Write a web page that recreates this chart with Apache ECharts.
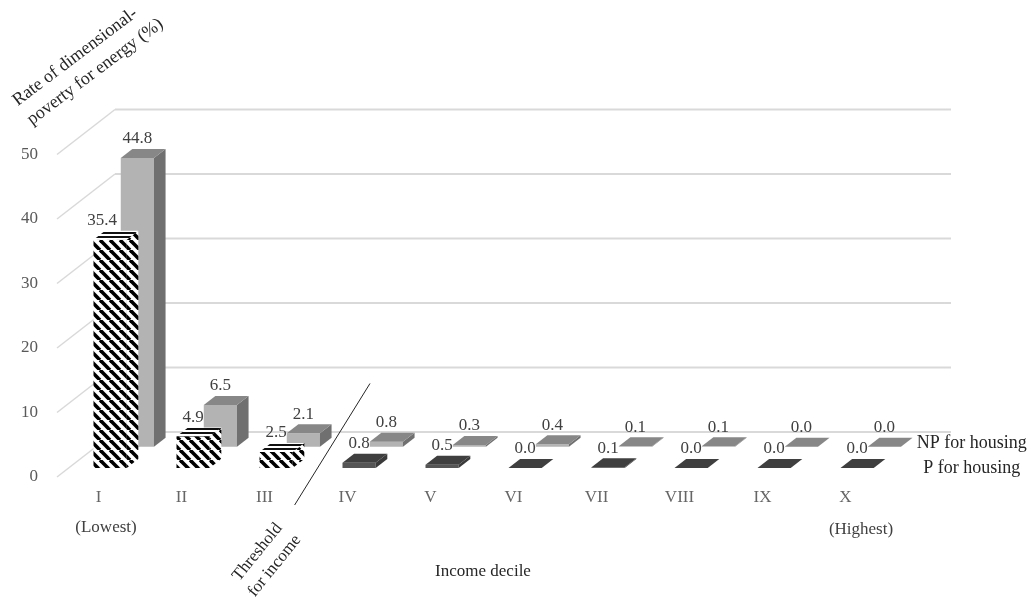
<!DOCTYPE html>
<html>
<head>
<meta charset="utf-8">
<script src="https://cdn.jsdelivr.net/npm/echarts@6/dist/echarts.min.js"></script>
<style>
  html, body { margin: 0; padding: 0; background: #ffffff; }
  #chart { width: 1035px; height: 604px; }
</style>
</head>
<body>
<div id="chart"></div>
<script>
// ---- data ----
const deciles = ['I', 'II', 'III', 'IV', 'V', 'VI', 'VII', 'VIII', 'IX', 'X'];
const poorHousing = [35.4, 4.9, 2.5, 0.8, 0.5, 0.0, 0.1, 0.0, 0.0, 0.0];     // P for housing
const nonPoorHousing = [44.8, 6.5, 2.1, 0.8, 0.3, 0.4, 0.1, 0.1, 0.0, 0.0];  // NP for housing
const valueTicks = [0, 10, 20, 30, 40, 50];
const rowNames = ['P for housing', 'NP for housing'];
const incomeThresholdAfter = 3; // deciles I-III lie below the income threshold

// ---- pseudo-3D geometry ----
const FONT = '"Liberation Serif", "Times New Roman", serif';
const DEPTH = [58, -45];      // front edge -> back wall offset in px
const ROW_DEPTH = { P: 0.2, NP: 0.67 };
const SLAB = 0.2;             // bar thickness as a fraction of depth
const BAR_FRAC = 0.4;         // bar width as a fraction of the category band
const GRID_COLOR = '#d9d9d9';

// diagonal black/white hatch used for the below-threshold P bars
function hatchCanvas() {
  const c = document.createElement('canvas');
  c.width = c.height = 10;
  const g = c.getContext('2d');
  g.fillStyle = '#ffffff'; g.fillRect(0, 0, 10, 10);
  g.strokeStyle = '#000000'; g.lineWidth = 3.6;
  for (const k of [-10, 0, 10]) {
    g.beginPath(); g.moveTo(k, 0); g.lineTo(k + 10, 10); g.stroke();
  }
  return c;
}
function topHatchCanvas() {
  const c = document.createElement('canvas');
  c.width = 4; c.height = 4;
  const g = c.getContext('2d');
  g.fillStyle = '#ffffff'; g.fillRect(0, 0, 4, 4);
  g.fillStyle = '#111111'; g.fillRect(0, 0, 4, 2);
  return c;
}
const HATCH = { image: hatchCanvas(), repeat: 'repeat' };
const TOP_HATCH = { image: topHatchCanvas(), repeat: 'repeat' };

const NP_STYLE = { front: '#b3b3b3', side: '#707070', top: '#878787' };
const P_STYLE = { front: '#555555', side: '#3a3a3a', top: '#3f3f3f' };

function poly(points, fill) {
  return { type: 'polygon', shape: { points: points }, style: { fill: fill, stroke: null } };
}

function barRenderer(row) {
  return function (params, api) {
    const i = params.dataIndex;
    const v = api.value(1);
    const base = api.coord([i, 0]);
    const top = api.coord([i, v]);
    const band = api.size([1, 0])[0];
    const w = band * BAR_FRAC;
    const d = ROW_DEPTH[row];
    const ox = DEPTH[0] * d, oy = DEPTH[1] * d;
    const sx = DEPTH[0] * SLAB, sy = DEPTH[1] * SLAB;
    const x0 = base[0] - w / 2 + ox, x1 = x0 + w;
    const yb = base[1] + oy, yt = top[1] + oy;

    let st;
    if (row === 'P' && i < incomeThresholdAfter) {
      st = { front: HATCH, side: HATCH, top: TOP_HATCH };
    } else {
      st = row === 'P' ? P_STYLE : NP_STYLE;
    }
    const children = [];
    if (yb - yt > 0.3) {
      children.push(poly([[x0, yt], [x1, yt], [x1, yb], [x0, yb]], st.front));
      children.push(poly([[x1, yt], [x1 + sx, yt + sy], [x1 + sx, yb + sy], [x1, yb]], st.side));
    }
    children.push(poly([[x0, yt], [x1, yt], [x1 + sx, yt + sy], [x0 + sx, yt + sy]], st.top));

    // value label above the bar; a P label steps left when the NP bar behind rises past it
    let lx = x0 + w / 2;
    if (row === 'P' && nonPoorHousing[i] - poorHousing[i] > 5) lx -= 8;
    children.push({
      type: 'text', x: lx, y: yt - 19, z2: 10,
      style: { text: v.toFixed(1), font: '17px ' + FONT, fill: '#404040', align: 'center', verticalAlign: 'middle' }
    });

    // row name beside the last bar of each row
    if (i === deciles.length - 1) {
      children.push({
        type: 'text', x: base[0] + band * 1.52, y: yb - (row === 'NP' ? 4 : 0),
        style: { text: row === 'NP' ? rowNames[1] : rowNames[0], font: '18px ' + FONT, fill: '#262626', align: 'center', verticalAlign: 'middle' }
      });
    }
    return { type: 'group', children: children };
  };
}

// back wall grid lines and the diagonals that join them to the value labels
function wallRenderer(params, api) {
  const v = api.value(0);
  const p = api.coord([0, v]);
  const cs = params.coordSys;
  const left = cs.x, right = cs.x + cs.width;
  const bx = left + DEPTH[0], by = p[1] + DEPTH[1];
  return {
    type: 'group',
    children: [
      { type: 'line', shape: { x1: left, y1: p[1], x2: bx, y2: by }, style: { stroke: GRID_COLOR, lineWidth: 1.5 } },
      { type: 'line', shape: { x1: bx, y1: by, x2: right + DEPTH[0] + 6, y2: by }, style: { stroke: GRID_COLOR, lineWidth: 2 } }
    ]
  };
}

// slanted line separating the deciles under the income threshold
function thresholdRenderer(params, api) {
  const band = api.size([1, 0])[0];
  const base = api.coord([incomeThresholdAfter - 1, 0]);
  const ax = base[0] + band / 2 + 6, ay = base[1];
  const topY = api.coord([0, api.value(1)])[1];
  const slope = 0.62;
  const botY = ay + 28;
  return {
    type: 'line',
    shape: { x1: ax + (ay - topY) * slope, y1: topY, x2: ax - (botY - ay) * slope, y2: botY },
    style: { stroke: '#262626', lineWidth: 1 }
  };
}

const chart = echarts.init(document.getElementById('chart'), null, { renderer: 'canvas' });
chart.setOption({
  backgroundColor: '#ffffff',
  animation: false,
  grid: { left: 57, top: 154.5, width: 830, height: 322.5 },
  xAxis: {
    type: 'category', data: deciles,
    axisLine: { show: false }, axisTick: { show: false }, splitLine: { show: false },
    axisLabel: { margin: 12, fontFamily: FONT, fontSize: 17, color: '#666666' }
  },
  yAxis: {
    type: 'value', min: 0, max: 50, interval: 10,
    axisLine: { show: false }, axisTick: { show: false }, splitLine: { show: false },
    axisLabel: { margin: 19, fontFamily: FONT, fontSize: 17, color: '#595959' }
  },
  series: [
    { type: 'custom', name: 'wall', z: 1, silent: true, renderItem: wallRenderer,
      data: valueTicks.map(v => [v]), encode: { y: 0 } },
    { type: 'custom', name: rowNames[1], z: 2, renderItem: barRenderer('NP'),
      data: nonPoorHousing.map((v, i) => [i, v]), encode: { x: 0, y: 1 } },
    { type: 'custom', name: rowNames[0], z: 3, renderItem: barRenderer('P'),
      data: poorHousing.map((v, i) => [i, v]), encode: { x: 0, y: 1 } },
    { type: 'custom', name: 'threshold', z: 4, silent: true, renderItem: thresholdRenderer,
      data: [[incomeThresholdAfter, 14.5]], encode: { x: 0, y: 1 } }
  ],
  graphic: [
    { type: 'text', x: 22, y: 112, rotation: 37 * Math.PI / 180,
      style: { text: 'Rate of dimensional-\npoverty for energy (%)', font: '18px ' + FONT, fill: '#262626', align: 'left', verticalAlign: 'middle', lineHeight: 24 } },
    { type: 'text', x: 106, y: 528,
      style: { text: '(Lowest)', font: '17px ' + FONT, fill: '#404040', align: 'center', verticalAlign: 'middle' } },
    { type: 'text', x: 861, y: 530,
      style: { text: '(Highest)', font: '17px ' + FONT, fill: '#404040', align: 'center', verticalAlign: 'middle' } },
    { type: 'text', x: 483, y: 572,
      style: { text: 'Income decile', font: '17px ' + FONT, fill: '#262626', align: 'center', verticalAlign: 'middle' } },
    { type: 'text', x: 266, y: 559, rotation: 51 * Math.PI / 180,
      style: { text: 'Threshold\nfor income', font: '17px ' + FONT, fill: '#262626', align: 'center', verticalAlign: 'middle', lineHeight: 22 } }
  ]
});
</script>
</body>
</html>
